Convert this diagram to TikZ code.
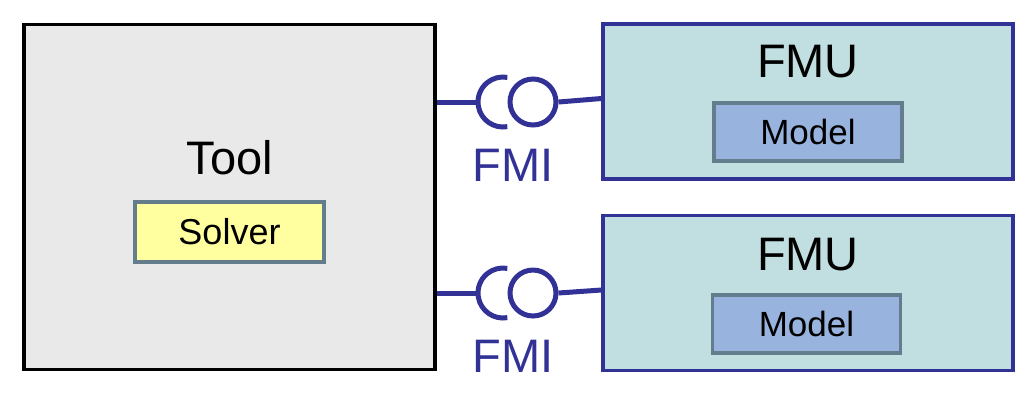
\documentclass[tikz,border=0pt]{standalone}
\usepackage{fontspec}
\setmainfont{Liberation Sans}
\usetikzlibrary{positioning}
\definecolor{fmiblue}{RGB}{50,50,150}
\definecolor{toolgray}{RGB}{233,233,233}
\definecolor{solveryellow}{RGB}{255,255,160}
\definecolor{fmucyan}{RGB}{193,222,224}
\definecolor{modelblue}{RGB}{152,180,222}
\definecolor{innerframe}{RGB}{100,125,140}
\tikzset{
  toolbox/.style={
    draw=black,
    fill=toolgray,
    line width=1.6pt,
    minimum width=205.5pt,
    minimum height=172.5pt,
  },
  fmubox/.style={
    draw=fmiblue,
    fill=fmucyan,
    line width=1.6pt,
    minimum width=205pt,
    minimum height=77.5pt,
  },
  inner/.style={
    draw=innerframe,
    line width=1.6pt,
    minimum height=30pt,
    inner sep=0pt,
  },
  solverbox/.style={
    inner,
    fill=solveryellow,
    minimum width=94.5pt,
    font=\fontsize{18}{21}\selectfont,
  },
  modelbox/.style={
    inner,
    fill=modelblue,
    minimum width=94pt,
    minimum height=29pt,
    font=\fontsize{17.5}{21}\selectfont,
  },
  title/.style={
    inner sep=0pt,
    font=\fontsize{23.5}{28}\selectfont,
  },
  wire/.style={
    draw=fmiblue,
    line width=2.5pt,
  },
  ball/.style={
    wire,
    circle,
    minimum size=23pt,
    inner sep=0pt,
  },
  fmilabel/.style={
    title,
    text=fmiblue,
  }
}
\begin{document}
\begin{tikzpicture}[x=0.5pt, y=-0.5pt]
  \useasboundingbox (0,0) rectangle (1034,404);

  % the importing tool
  \node[toolbox] (tool) at (229.5,197) {};
  \node[title] (toollbl) at (230,158) {Tool};
  \node[solverbox] (solver) at (229.5,232) {Solver};

  % the two units
  \node[fmubox] (fmuA) at (808,101.5) {};
  \node[title] (fmuAlbl) at (808,62) {FMU};
  \node[modelbox] (modelA) at (808,132) {Model};

  \node[fmubox] (fmuB) at (808,293) {};
  \node[title] (fmuBlbl) at (808,255) {FMU};
  \node[modelbox] (modelB) at (806.5,324) {Model};

  % socket and ball between them
  \foreach \u/\y in {A/102, B/293} {
    \coordinate (sock\u) at (503,\y);
    \coordinate (sock\u w) at (478,\y);
    \node[ball] (ball\u) at (533,\y) {};
    \node[fmilabel] (fmi\u) at (513,\y+63) {FMI};
    \draw[wire] (tool.east |- sock\u w) -- (sock\u w);
    \draw[wire] ([shift={(80:25)}]sock\u) arc (80:280:25);
    \draw[wire] (ball\u.east) -- ([yshift=1.5pt]fmu\u.west);
  }
\end{tikzpicture}
\end{document}
